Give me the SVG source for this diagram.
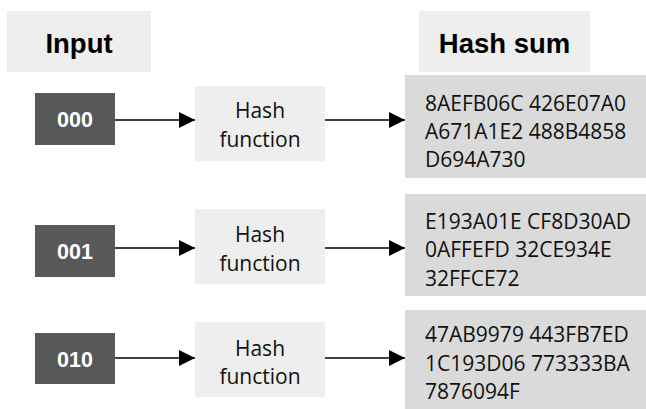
<svg xmlns="http://www.w3.org/2000/svg" width="646" height="409" viewBox="0 0 646 409">
<style>
.hdr{fill:#eeeeee}
.hdrt{font-family:"Liberation Sans",Arial,sans-serif;font-weight:bold;font-size:27.5px;fill:#000;text-anchor:middle}
.in{fill:#595959}
.int{font-family:"Liberation Sans",Arial,sans-serif;font-weight:bold;font-size:21.5px;fill:#fff;text-anchor:middle}
.fn{fill:#eeeeee}
.fnt{font-family:"Open Sans","Liberation Sans",sans-serif;font-size:21px;fill:#111;text-anchor:middle}
.hs{fill:#dadada}
.hst{font-family:"Open Sans","Liberation Sans",sans-serif;font-size:21px;fill:#111}
.con{stroke:#000;stroke-width:1.5;fill:none}
</style>
<defs>
<marker id="ah" markerUnits="userSpaceOnUse" markerWidth="16" markerHeight="16" refX="16" refY="8" orient="auto">
<path d="M0,0 L16,8 L0,16 Z" fill="#000"/>
</marker>
</defs>
<rect width="646" height="409" fill="#fff"/>
<g id="hdr-input"><rect class="hdr" x="7" y="11" width="144" height="61"/><text class="hdrt" x="79" y="53">Input</text></g>
<g id="hdr-hashsum"><rect class="hdr" x="419" y="11" width="171" height="61"/><text class="hdrt" x="504.5" y="53">Hash sum</text></g>

<g id="in1"><rect class="in" x="35" y="93" width="80" height="52"/><text class="int" x="75" y="127">000</text></g>
<g id="in2"><rect class="in" x="35" y="225" width="80" height="52"/><text class="int" x="75" y="259">001</text></g>
<g id="in3"><rect class="in" x="35" y="333" width="80" height="51"/><text class="int" x="75" y="366.5">010</text></g>

<g id="fn1"><rect class="fn" x="195" y="86" width="130" height="75"/><text class="fnt" x="260" y="118">Hash</text><text class="fnt" x="260" y="147">function</text></g>
<g id="fn2"><rect class="fn" x="195" y="209" width="130" height="75"/><text class="fnt" x="260" y="242">Hash</text><text class="fnt" x="260" y="271">function</text></g>
<g id="fn3"><rect class="fn" x="195" y="322" width="130" height="75"/><text class="fnt" x="260" y="356">Hash</text><text class="fnt" x="260" y="384">function</text></g>

<g id="hs1"><rect class="hs" x="405" y="75" width="241" height="103"/><text class="hst" x="425" y="111">8AEFB06C 426E07A0</text><text class="hst" x="425" y="139">A671A1E2 488B4858</text><text class="hst" x="425" y="167">D694A730</text></g>
<g id="hs2"><rect class="hs" x="405" y="194" width="241" height="102"/><text class="hst" x="425" y="229">E193A01E CF8D30AD</text><text class="hst" x="425" y="257">0AFFEFD 32CE934E</text><text class="hst" x="425" y="286">32FFCE72</text></g>
<g id="hs3"><rect class="hs" x="405" y="310" width="241" height="99"/><text class="hst" x="425" y="342">47AB9979 443FB7ED</text><text class="hst" x="425" y="371">1C193D06 773333BA</text><text class="hst" x="425" y="399">7876094F</text></g>

<g id="connectors">
<line class="con" x1="115" y1="120" x2="195" y2="120" marker-end="url(#ah)"/>
<line class="con" x1="325" y1="120" x2="405" y2="120" marker-end="url(#ah)"/>
<line class="con" x1="115" y1="248" x2="195" y2="248" marker-end="url(#ah)"/>
<line class="con" x1="325" y1="248" x2="405" y2="248" marker-end="url(#ah)"/>
<line class="con" x1="115" y1="358" x2="195" y2="358" marker-end="url(#ah)"/>
<line class="con" x1="325" y1="358" x2="405" y2="358" marker-end="url(#ah)"/>
</g>
</svg>
